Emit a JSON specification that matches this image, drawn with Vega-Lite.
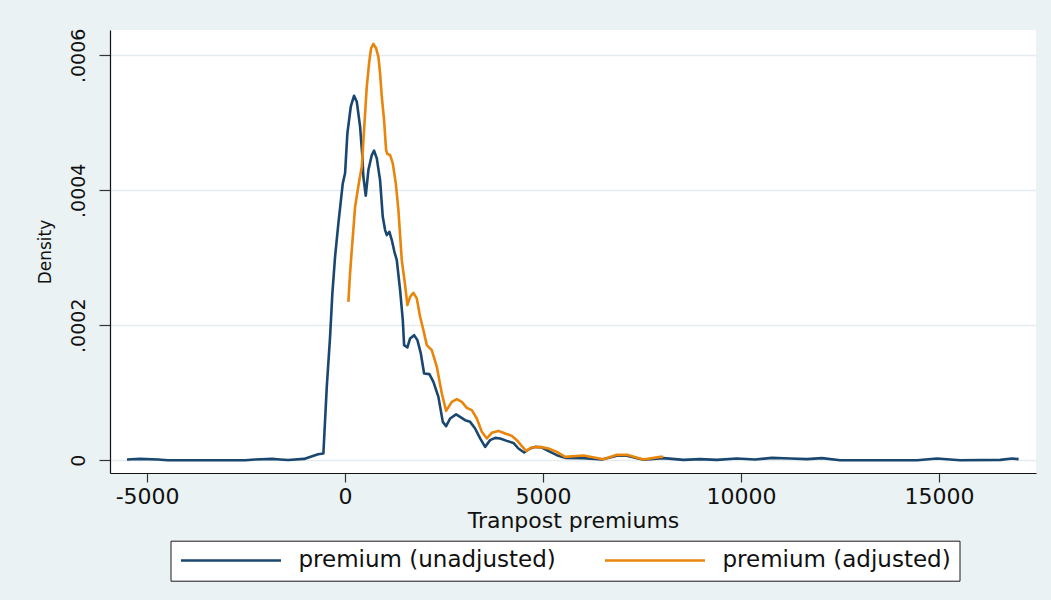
{
  "$schema": "https://vega.github.io/schema/vega-lite/v6.json",
  "width": 926,
  "height": 443,
  "autosize": {"type": "none"},
  "padding": {"left": 110, "top": 30, "right": 15, "bottom": 127},
  "background": "#eaf2f3",
  "config": {
    "view": {"fill": "white", "stroke": null},
    "font": "DejaVu Sans",
    "axis": {
      "domainColor": "#111111",
      "domainWidth": 1.2,
      "tickColor": "#333333",
      "tickWidth": 1.2,
      "gridColor": "#e4ecef",
      "gridWidth": 1.6,
      "labelColor": "#111111",
      "titleColor": "#111111",
      "titleFontWeight": "normal",
      "labelFont": "DejaVu Sans",
      "titleFont": "DejaVu Sans"
    }
  },
  "data": {
    "values": [
      {"series": "premium (unadjusted)", "premium": -5508, "density": 0.0000010},
      {"series": "premium (unadjusted)", "premium": -5179, "density": 0.0000019},
      {"series": "premium (unadjusted)", "premium": -4725, "density": 0.0000010},
      {"series": "premium (unadjusted)", "premium": -4472, "density": 0.0000000},
      {"series": "premium (unadjusted)", "premium": -2527, "density": 0.0000000},
      {"series": "premium (unadjusted)", "premium": -2274, "density": 0.0000010},
      {"series": "premium (unadjusted)", "premium": -1844, "density": 0.0000019},
      {"series": "premium (unadjusted)", "premium": -1642, "density": 0.0000010},
      {"series": "premium (unadjusted)", "premium": -1440, "density": 0.0000003},
      {"series": "premium (unadjusted)", "premium": -1036, "density": 0.0000019},
      {"series": "premium (unadjusted)", "premium": -682, "density": 0.0000089},
      {"series": "premium (unadjusted)", "premium": -548, "density": 0.0000099},
      {"series": "premium (unadjusted)", "premium": -462, "density": 0.0001087},
      {"series": "premium (unadjusted)", "premium": -379, "density": 0.0001828},
      {"series": "premium (unadjusted)", "premium": -321, "density": 0.0002471},
      {"series": "premium (unadjusted)", "premium": -253, "density": 0.0003014},
      {"series": "premium (unadjusted)", "premium": -169, "density": 0.0003509},
      {"series": "premium (unadjusted)", "premium": -58, "density": 0.0004102},
      {"series": "premium (unadjusted)", "premium": 0, "density": 0.0004251},
      {"series": "premium (unadjusted)", "premium": 58, "density": 0.0004844},
      {"series": "premium (unadjusted)", "premium": 144, "density": 0.0005238},
      {"series": "premium (unadjusted)", "premium": 227, "density": 0.0005401},
      {"series": "premium (unadjusted)", "premium": 296, "density": 0.0005312},
      {"series": "premium (unadjusted)", "premium": 379, "density": 0.0004942},
      {"series": "premium (unadjusted)", "premium": 437, "density": 0.0004497},
      {"series": "premium (unadjusted)", "premium": 462, "density": 0.0004200},
      {"series": "premium (unadjusted)", "premium": 523, "density": 0.0003919},
      {"series": "premium (unadjusted)", "premium": 589, "density": 0.0004300},
      {"series": "premium (unadjusted)", "premium": 675, "density": 0.0004522},
      {"series": "premium (unadjusted)", "premium": 733, "density": 0.0004586},
      {"series": "premium (unadjusted)", "premium": 801, "density": 0.0004473},
      {"series": "premium (unadjusted)", "premium": 884, "density": 0.0004151},
      {"series": "premium (unadjusted)", "premium": 952, "density": 0.0003607},
      {"series": "premium (unadjusted)", "premium": 1011, "density": 0.0003410},
      {"series": "premium (unadjusted)", "premium": 1054, "density": 0.0003336},
      {"series": "premium (unadjusted)", "premium": 1119, "density": 0.0003385},
      {"series": "premium (unadjusted)", "premium": 1180, "density": 0.0003262},
      {"series": "premium (unadjusted)", "premium": 1246, "density": 0.0003088},
      {"series": "premium (unadjusted)", "premium": 1306, "density": 0.0002965},
      {"series": "premium (unadjusted)", "premium": 1390, "density": 0.0002520},
      {"series": "premium (unadjusted)", "premium": 1458, "density": 0.0002076},
      {"series": "premium (unadjusted)", "premium": 1491, "density": 0.0001705},
      {"series": "premium (unadjusted)", "premium": 1574, "density": 0.0001671},
      {"series": "premium (unadjusted)", "premium": 1642, "density": 0.0001804},
      {"series": "premium (unadjusted)", "premium": 1743, "density": 0.0001853},
      {"series": "premium (unadjusted)", "premium": 1827, "density": 0.0001779},
      {"series": "premium (unadjusted)", "premium": 1913, "density": 0.0001582},
      {"series": "premium (unadjusted)", "premium": 1996, "density": 0.0001285},
      {"series": "premium (unadjusted)", "premium": 2130, "density": 0.0001275},
      {"series": "premium (unadjusted)", "premium": 2231, "density": 0.0001161},
      {"series": "premium (unadjusted)", "premium": 2357, "density": 0.0000938},
      {"series": "premium (unadjusted)", "premium": 2468, "density": 0.0000568},
      {"series": "premium (unadjusted)", "premium": 2552, "density": 0.0000504},
      {"series": "premium (unadjusted)", "premium": 2653, "density": 0.0000618},
      {"series": "premium (unadjusted)", "premium": 2804, "density": 0.0000678},
      {"series": "premium (unadjusted)", "premium": 2905, "density": 0.0000642},
      {"series": "premium (unadjusted)", "premium": 3032, "density": 0.0000593},
      {"series": "premium (unadjusted)", "premium": 3158, "density": 0.0000568},
      {"series": "premium (unadjusted)", "premium": 3284, "density": 0.0000470},
      {"series": "premium (unadjusted)", "premium": 3411, "density": 0.0000322},
      {"series": "premium (unadjusted)", "premium": 3537, "density": 0.0000197},
      {"series": "premium (unadjusted)", "premium": 3663, "density": 0.0000297},
      {"series": "premium (unadjusted)", "premium": 3790, "density": 0.0000331},
      {"series": "premium (unadjusted)", "premium": 3916, "density": 0.0000322},
      {"series": "premium (unadjusted)", "premium": 4085, "density": 0.0000286},
      {"series": "premium (unadjusted)", "premium": 4252, "density": 0.0000256},
      {"series": "premium (unadjusted)", "premium": 4378, "density": 0.0000173},
      {"series": "premium (unadjusted)", "premium": 4522, "density": 0.0000114},
      {"series": "premium (unadjusted)", "premium": 4674, "density": 0.0000173},
      {"series": "premium (unadjusted)", "premium": 4800, "density": 0.0000197},
      {"series": "premium (unadjusted)", "premium": 4970, "density": 0.0000188},
      {"series": "premium (unadjusted)", "premium": 5179, "density": 0.0000123},
      {"series": "premium (unadjusted)", "premium": 5349, "density": 0.0000074},
      {"series": "premium (unadjusted)", "premium": 5558, "density": 0.0000034},
      {"series": "premium (unadjusted)", "premium": 6021, "density": 0.0000030},
      {"series": "premium (unadjusted)", "premium": 6486, "density": 0.0000010},
      {"series": "premium (unadjusted)", "premium": 6865, "density": 0.0000067},
      {"series": "premium (unadjusted)", "premium": 7117, "density": 0.0000067},
      {"series": "premium (unadjusted)", "premium": 7537, "density": 0.0000007},
      {"series": "premium (unadjusted)", "premium": 8042, "density": 0.0000030},
      {"series": "premium (unadjusted)", "premium": 8547, "density": 0.0000004},
      {"series": "premium (unadjusted)", "premium": 8969, "density": 0.0000015},
      {"series": "premium (unadjusted)", "premium": 9391, "density": 0.0000004},
      {"series": "premium (unadjusted)", "premium": 9896, "density": 0.0000025},
      {"series": "premium (unadjusted)", "premium": 10359, "density": 0.0000010},
      {"series": "premium (unadjusted)", "premium": 10780, "density": 0.0000034},
      {"series": "premium (unadjusted)", "premium": 11243, "density": 0.0000025},
      {"series": "premium (unadjusted)", "premium": 11665, "density": 0.0000015},
      {"series": "premium (unadjusted)", "premium": 12044, "density": 0.0000030},
      {"series": "premium (unadjusted)", "premium": 12506, "density": 0.0000000},
      {"series": "premium (unadjusted)", "premium": 14444, "density": 0.0000000},
      {"series": "premium (unadjusted)", "premium": 14949, "density": 0.0000025},
      {"series": "premium (unadjusted)", "premium": 15538, "density": 0.0000000},
      {"series": "premium (unadjusted)", "premium": 16549, "density": 0.0000004},
      {"series": "premium (unadjusted)", "premium": 16844, "density": 0.0000025},
      {"series": "premium (unadjusted)", "premium": 17011, "density": 0.0000015},
      {"series": "premium (adjusted)", "premium": 83, "density": 0.0002347},
      {"series": "premium (adjusted)", "premium": 126, "density": 0.0002768},
      {"series": "premium (adjusted)", "premium": 169, "density": 0.0003113},
      {"series": "premium (adjusted)", "premium": 253, "density": 0.0003755},
      {"series": "premium (adjusted)", "premium": 361, "density": 0.0004151},
      {"series": "premium (adjusted)", "premium": 422, "density": 0.0004348},
      {"series": "premium (adjusted)", "premium": 480, "density": 0.0004893},
      {"series": "premium (adjusted)", "premium": 548, "density": 0.0005535},
      {"series": "premium (adjusted)", "premium": 606, "density": 0.0005882},
      {"series": "premium (adjusted)", "premium": 657, "density": 0.0006104},
      {"series": "premium (adjusted)", "premium": 715, "density": 0.0006168},
      {"series": "premium (adjusted)", "premium": 783, "density": 0.0006104},
      {"series": "premium (adjusted)", "premium": 841, "density": 0.0005979},
      {"series": "premium (adjusted)", "premium": 884, "density": 0.0005733},
      {"series": "premium (adjusted)", "premium": 927, "density": 0.0005386},
      {"series": "premium (adjusted)", "premium": 985, "density": 0.0005041},
      {"series": "premium (adjusted)", "premium": 1036, "density": 0.0004596},
      {"series": "premium (adjusted)", "premium": 1069, "density": 0.0004537},
      {"series": "premium (adjusted)", "premium": 1137, "density": 0.0004522},
      {"series": "premium (adjusted)", "premium": 1205, "density": 0.0004399},
      {"series": "premium (adjusted)", "premium": 1281, "density": 0.0004102},
      {"series": "premium (adjusted)", "premium": 1347, "density": 0.0003707},
      {"series": "premium (adjusted)", "premium": 1432, "density": 0.0002965},
      {"series": "premium (adjusted)", "premium": 1516, "density": 0.0002595},
      {"series": "premium (adjusted)", "premium": 1574, "density": 0.0002298},
      {"series": "premium (adjusted)", "premium": 1642, "density": 0.0002421},
      {"series": "premium (adjusted)", "premium": 1726, "density": 0.0002480},
      {"series": "premium (adjusted)", "premium": 1811, "density": 0.0002397},
      {"series": "premium (adjusted)", "premium": 1895, "density": 0.0002125},
      {"series": "premium (adjusted)", "premium": 1978, "density": 0.0001927},
      {"series": "premium (adjusted)", "premium": 2064, "density": 0.0001705},
      {"series": "premium (adjusted)", "premium": 2190, "density": 0.0001631},
      {"series": "premium (adjusted)", "premium": 2317, "density": 0.0001383},
      {"series": "premium (adjusted)", "premium": 2443, "density": 0.0000989},
      {"series": "premium (adjusted)", "premium": 2552, "density": 0.0000731},
      {"series": "premium (adjusted)", "premium": 2696, "density": 0.0000864},
      {"series": "premium (adjusted)", "premium": 2822, "density": 0.0000904},
      {"series": "premium (adjusted)", "premium": 2948, "density": 0.0000864},
      {"series": "premium (adjusted)", "premium": 3075, "density": 0.0000775},
      {"series": "premium (adjusted)", "premium": 3201, "density": 0.0000741},
      {"series": "premium (adjusted)", "premium": 3327, "density": 0.0000618},
      {"series": "premium (adjusted)", "premium": 3454, "density": 0.0000420},
      {"series": "premium (adjusted)", "premium": 3580, "density": 0.0000322},
      {"series": "premium (adjusted)", "premium": 3706, "density": 0.0000405},
      {"series": "premium (adjusted)", "premium": 3873, "density": 0.0000434},
      {"series": "premium (adjusted)", "premium": 4042, "density": 0.0000396},
      {"series": "premium (adjusted)", "premium": 4212, "density": 0.0000360},
      {"series": "premium (adjusted)", "premium": 4338, "density": 0.0000297},
      {"series": "premium (adjusted)", "premium": 4464, "density": 0.0000208},
      {"series": "premium (adjusted)", "premium": 4573, "density": 0.0000138},
      {"series": "premium (adjusted)", "premium": 4717, "density": 0.0000188},
      {"series": "premium (adjusted)", "premium": 4927, "density": 0.0000197},
      {"series": "premium (adjusted)", "premium": 5136, "density": 0.0000173},
      {"series": "premium (adjusted)", "premium": 5349, "density": 0.0000123},
      {"series": "premium (adjusted)", "premium": 5558, "density": 0.0000049},
      {"series": "premium (adjusted)", "premium": 6021, "density": 0.0000070},
      {"series": "premium (adjusted)", "premium": 6526, "density": 0.0000015},
      {"series": "premium (adjusted)", "premium": 6865, "density": 0.0000079},
      {"series": "premium (adjusted)", "premium": 7117, "density": 0.0000079},
      {"series": "premium (adjusted)", "premium": 7537, "density": 0.0000010},
      {"series": "premium (adjusted)", "premium": 7958, "density": 0.0000049},
      {"series": "premium (adjusted)", "premium": 8034, "density": 0.0000049}
    ]
  },
  "encoding": {
    "x": {
      "field": "premium",
      "type": "quantitative",
      "scale": {"domain": [-5937, 17450], "nice": false, "zero": false},
      "axis": {
        "title": "Tranpost premiums",
        "values": [-5000, 0, 5000, 10000, 15000],
        "labelExpr": "'' + datum.value",
        "grid": false,
        "tickSize": 9,
        "labelPadding": 4,
        "labelFontSize": 22,
        "titleFontSize": 22,
        "titlePadding": 3
      }
    },
    "y": {
      "field": "density",
      "type": "quantitative",
      "scale": {"domain": [-0.000019, 0.0006375], "nice": false, "zero": false},
      "axis": {
        "title": "Density",
        "values": [0, 0.0002, 0.0004, 0.0006],
        "labelExpr": "datum.value === 0 ? '0' : '.' + substring(format(datum.value, '.4f'), 2)",
        "labelAngle": 270,
        "grid": true,
        "tickSize": 11,
        "labelPadding": 11,
        "labelFontSize": 19,
        "titleFontSize": 17,
        "titlePadding": 15
      }
    },
    "color": {
      "field": "series",
      "type": "nominal",
      "scale": {
        "domain": ["premium (unadjusted)", "premium (adjusted)"],
        "range": ["#1a476f", "#e8850a"]
      },
      "legend": {
        "title": null,
        "orient": "none",
        "legendX": 60.5,
        "legendY": 510.7,
        "direction": "horizontal",
        "columns": 2,
        "symbolType": "M-5,0H5",
        "symbolSize": 400,
        "symbolStrokeWidth": 2.6,
        "symbolOffset": 41,
        "labelOffset": 56,
        "columnPadding": 43,
        "padding": 8,
        "fillColor": "white",
        "strokeColor": "#1a1a1a",
        "labelFont": "DejaVu Sans",
        "labelFontSize": 23,
        "labelColor": "#111111",
        "labelLimit": 0
      }
    }
  },
  "layer": [
    {
      "transform": [{"filter": "datum.series === 'premium (unadjusted)'"}],
      "mark": {"type": "line", "strokeWidth": 2.6, "strokeJoin": "round"}
    },
    {
      "transform": [{"filter": "datum.series === 'premium (adjusted)'"}],
      "mark": {"type": "line", "strokeWidth": 2.6, "strokeJoin": "round"}
    }
  ]
}
